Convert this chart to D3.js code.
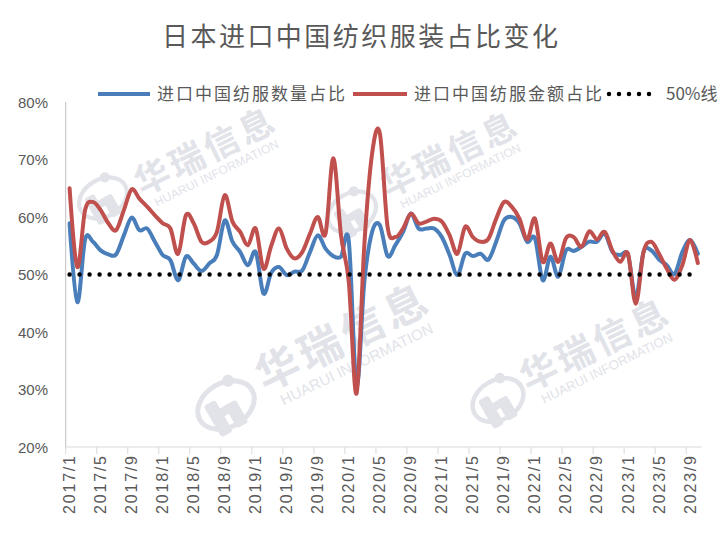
<!DOCTYPE html>
<html><head><meta charset="utf-8">
<script src="https://cdn.jsdelivr.net/npm/d3@7"></script>
<style>
html,body{margin:0;padding:0;background:#fff;}
svg{display:block;}
</style>
</head><body>
<svg id="chart" width="720" height="548"></svg>
<script>
// ---------- data ----------
const title = "日本进口中国纺织服装占比变化";
const seriesNames = ["进口中国纺服数量占比", "进口中国纺服金额占比", "50%线"];
const categories = [
 "2017/1","2017/2","2017/3","2017/4","2017/5","2017/6","2017/7","2017/8","2017/9","2017/10","2017/11","2017/12",
 "2018/1","2018/2","2018/3","2018/4","2018/5","2018/6","2018/7","2018/8","2018/9","2018/10","2018/11","2018/12",
 "2019/1","2019/2","2019/3","2019/4","2019/5","2019/6","2019/7","2019/8","2019/9","2019/10","2019/11","2019/12",
 "2020/1","2020/2","2020/3","2020/4","2020/5","2020/6","2020/7","2020/8","2020/9","2020/10","2020/11","2020/12",
 "2021/1","2021/2","2021/3","2021/4","2021/5","2021/6","2021/7","2021/8","2021/9","2021/10","2021/11","2021/12",
 "2022/1","2022/2","2022/3","2022/4","2022/5","2022/6","2022/7","2022/8","2022/9","2022/10","2022/11","2022/12",
 "2023/1","2023/2","2023/3","2023/4","2023/5","2023/6","2023/7","2023/8","2023/9","2023/10"
];
// quantity share (%)
const qtyShare = [
 58.9,45.2,56.1,55.7,54.2,53.5,53.5,56.8,59.9,57.7,58.0,55.7,
 53.4,52.5,49.0,53.1,51.9,50.6,51.9,53.4,59.4,55.7,53.9,51.6,
 53.9,46.7,50.3,51.3,49.9,50.5,50.7,53.9,56.8,54.5,53.2,53.1,
 55.8,30.7,48.7,57.4,58.6,53.2,55.1,57.4,60.6,58.0,58.0,58.0,
 56.5,53.4,49.9,53.6,53.2,53.6,52.6,55.7,59.4,60.0,58.9,55.7,
 56.3,49.0,53.1,49.6,54.2,54.1,54.8,55.7,55.7,57.1,53.9,53.4,
 53.4,46.0,53.9,54.2,52.6,51.6,50.1,53.9,56.0,53.6
];
// value share (%)
const valueShare = [
 65.0,51.3,61.2,62.6,61.2,58.9,57.7,61.2,64.8,63.2,61.8,60.3,
 58.9,58.0,53.6,60.3,58.9,55.7,55.7,57.4,63.8,59.2,57.4,55.1,
 58.0,51.0,55.0,58.0,54.5,52.8,53.9,57.1,60.0,57.1,70.2,56.8,
 48.7,29.3,55.1,71.0,74.6,58.3,56.5,58.0,60.6,58.9,59.2,59.7,
 59.2,56.8,53.6,58.3,56.5,55.7,56.2,59.7,62.6,61.8,59.7,56.1,
 59.7,52.2,55.4,52.2,56.3,56.5,54.8,57.5,56.1,57.4,54.1,52.2,
 53.6,44.9,53.9,55.7,53.6,51.0,49.1,51.6,56.0,52.0
];
const baselineValue = 50;
const yTicks = [20,30,40,50,60,70,80];
const xTickLabels = ["2017/1","2017/5","2017/9","2018/1","2018/5","2018/9","2019/1","2019/5","2019/9",
 "2020/1","2020/5","2020/9","2021/1","2021/5","2021/9","2022/1","2022/5","2022/9","2023/1","2023/5","2023/9"];

// ---------- layout ----------
const svg = d3.select("#chart");
const plot = {left:65.7, right:701.7, top:102, bottom:447};
const blue = "#4a7ebb", red = "#c0504d", textCol = "#595959", axisCol = "#bfbfbf";

const x = d3.scaleBand().domain(categories).range([plot.left, plot.right]).paddingInner(0).paddingOuter(0);
const cx = c => x(c) + x.bandwidth()/2;
const y = d3.scaleLinear().domain([20,80]).range([plot.bottom, plot.top]);

// ---------- watermarks ----------
const wm = svg.append("g").attr("class","watermarks");
const wmCol = "#e1e3e9";
const marks = [
  {lx:103, ly:198, tx:142, ty:196, size:35, sub:12, scale:0.85},
  {lx:352, ly:212, tx:388, ty:198, size:34, sub:12, scale:0.85},
  {lx:226, ly:405, tx:265, ty:392, size:43, sub:15, scale:1.0},
  {lx:498, ly:400, tx:528, ty:392, size:37, sub:13, scale:0.9}
];
marks.forEach(m => {
  const lg = wm.append("g").attr("transform",`translate(${m.lx},${m.ly}) scale(${m.scale}) rotate(-30)`);
  lg.append("ellipse").attr("rx",30).attr("ry",22).attr("fill","none").attr("stroke",wmCol).attr("stroke-width",5);
  lg.append("circle").attr("cx",14).attr("cy",-20).attr("r",6).attr("fill",wmCol);
  lg.append("rect").attr("x",-20).attr("y",-10).attr("width",13).attr("height",36).attr("rx",3).attr("fill",wmCol);
  lg.append("rect").attr("x",-2).attr("y",0).attr("width",13).attr("height",26).attr("rx",3).attr("fill",wmCol);
  lg.append("rect").attr("x",-10).attr("y",0).attr("width",14).attr("height",9).attr("fill",wmCol);
  const tg = wm.append("g").attr("transform",`translate(${m.tx},${m.ty}) rotate(-26)`);
  tg.append("text").attr("x",0).attr("y",0)
    .attr("font-family","'Noto Sans CJK SC'").attr("font-weight","bold")
    .attr("font-size",m.size).attr("fill",wmCol).attr("letter-spacing",m.size*0.1).text("华瑞信息");
  tg.append("text").attr("x",m.size*0.25).attr("y",m.sub*1.35)
    .attr("font-family","'Liberation Sans'").attr("font-size",m.sub).attr("fill",wmCol)
    .attr("textLength",m.size*3.9).attr("lengthAdjust","spacing").text("HUARUI INFORMATION");
});

// ---------- title ----------
svg.append("text").attr("x",360).attr("y",46).attr("text-anchor","middle")
  .attr("font-family","'Noto Sans CJK SC'").attr("font-size",26).attr("fill",textCol)
  .attr("textLength",396).attr("lengthAdjust","spacing").text(title);

// ---------- legend ----------
const legend = svg.append("g");
legend.append("line").attr("x1",98).attr("x2",150).attr("y1",94).attr("y2",94).attr("stroke",blue).attr("stroke-width",4);
legend.append("text").attr("x",157).attr("y",100).attr("font-family","'Noto Sans CJK SC'").attr("font-size",17)
  .attr("fill",textCol).attr("textLength",188).attr("lengthAdjust","spacing").text(seriesNames[0]);
legend.append("line").attr("x1",353).attr("x2",407).attr("y1",94).attr("y2",94).attr("stroke",red).attr("stroke-width",4);
legend.append("text").attr("x",414).attr("y",100).attr("font-family","'Noto Sans CJK SC'").attr("font-size",17)
  .attr("fill",textCol).attr("textLength",188).attr("lengthAdjust","spacing").text(seriesNames[1]);
legend.append("line").attr("x1",609).attr("x2",659).attr("y1",94).attr("y2",94).attr("stroke","#000")
  .attr("stroke-width",4.5).attr("stroke-linecap","round").attr("stroke-dasharray","0 10");
legend.append("text").attr("x",666).attr("y",100).attr("font-family","'Noto Sans CJK SC'").attr("font-size",17)
  .attr("fill",textCol).text(seriesNames[2]);

// ---------- axes ----------
const yAxis = svg.append("g");
yAxis.append("line").attr("x1",plot.left).attr("x2",plot.left).attr("y1",plot.top).attr("y2",plot.bottom).attr("stroke",axisCol).attr("stroke-width",1);
yAxis.selectAll("text.ylab").data(yTicks).enter().append("text").attr("class","ylab")
  .attr("x",48).attr("y",d=>y(d)+5.5).attr("text-anchor","end")
  .attr("font-family","'Liberation Sans'").attr("font-size",15).attr("fill",textCol)
  .text(d=>d+"%");

const xAxis = svg.append("g");
xAxis.append("line").attr("x1",plot.left).attr("x2",plot.right).attr("y1",plot.bottom).attr("y2",plot.bottom).attr("stroke","#d9d9d9").attr("stroke-width",1);
const tickIdx = categories.map((c,i)=>i).filter(i=>i%4===0);
xAxis.selectAll("line.tick").data(tickIdx).enter().append("line").attr("class","tick")
  .attr("x1",i=>x(categories[i])).attr("x2",i=>x(categories[i])).attr("y1",plot.bottom).attr("y2",plot.bottom+7)
  .attr("stroke","#d9d9d9").attr("stroke-width",1);
xAxis.selectAll("text.xlab").data(xTickLabels).enter().append("text").attr("class","xlab")
  .attr("transform",d=>`translate(${cx(d)+5.5},456) rotate(-90)`).attr("text-anchor","end")
  .attr("font-family","'Liberation Sans'").attr("font-size",16).attr("fill",textCol)
  .attr("textLength",58).attr("lengthAdjust","spacing")
  .text(d=>d);

// ---------- lines ----------
const line = d3.line().x((d,i)=>cx(categories[i])).y(d=>y(d)).curve(d3.curveCardinal.tension(0));
svg.append("path").datum(qtyShare).attr("d",line).attr("fill","none").attr("stroke",blue).attr("stroke-width",4).attr("stroke-linejoin","round").attr("stroke-linecap","round");
svg.append("path").datum(valueShare).attr("d",line).attr("fill","none").attr("stroke",red).attr("stroke-width",4).attr("stroke-linejoin","round").attr("stroke-linecap","round");
const baseLine = categories.map(()=>baselineValue);
svg.append("path").datum(baseLine).attr("d",d3.line().x((d,i)=>cx(categories[i])).y(d=>y(d)))
  .attr("fill","none").attr("stroke","#000").attr("stroke-width",4.5).attr("stroke-linecap","round").attr("stroke-dasharray","0 10");
</script>
</body></html>
